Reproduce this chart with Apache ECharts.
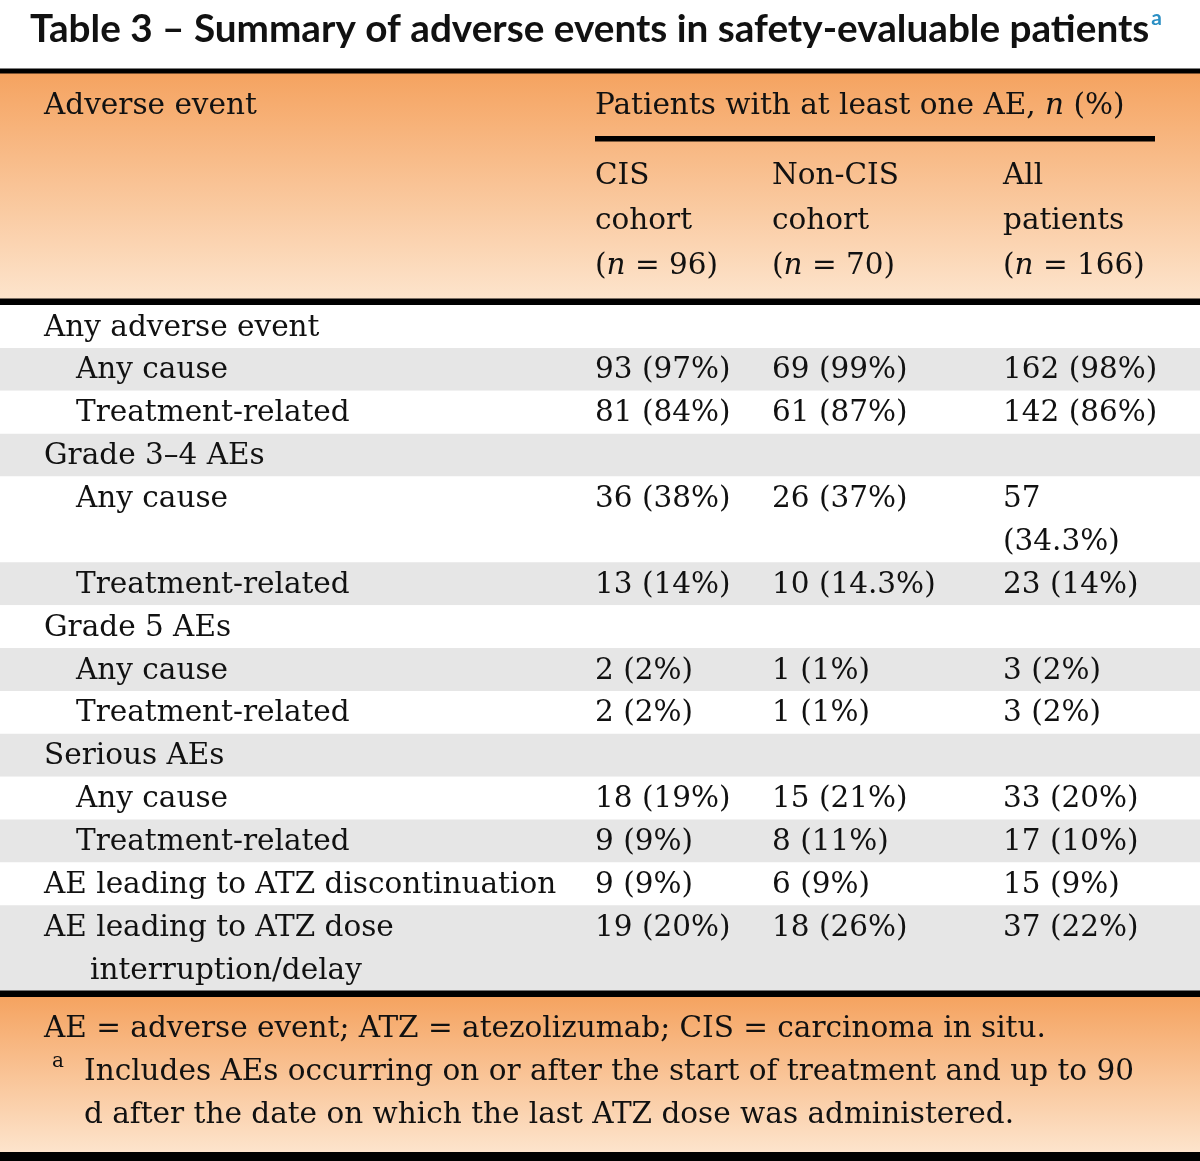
<!DOCTYPE html>
<html>
<head>
<meta charset="utf-8">
<script src="https://cdn.jsdelivr.net/npm/echarts@6/dist/echarts.min.js"></script>
<style>
  html, body { margin: 0; padding: 0; background: #fff; }
  #main { width: 1200px; height: 1161px; }
</style>
</head>
<body>
<div id="main"></div>
<script>
// 表格数据
var titleText = 'Table 3 – Summary of adverse events in safety-evaluable patients';
var rowLabels = [
    'Any adverse event', 'Any cause', 'Treatment-related',
    'Grade 3–4 AEs', 'Any cause', 'Treatment-related',
    'Grade 5 AEs', 'Any cause', 'Treatment-related',
    'Serious AEs', 'Any cause', 'Treatment-related',
    'AE leading to ATZ discontinuation',
    'AE leading to ATZ dose\ninterruption/delay'
];
var rowIndent = [0, 1, 1, 0, 1, 1, 0, 1, 1, 0, 1, 1, 0, 0];
var colHeads = [['CIS', 'cohort'], ['Non-CIS', 'cohort'], ['All', 'patients']];
var colTotals = [96, 70, 166];
var cisN      = [null, 93, 81, null, 36, 13, null, 2, 2, null, 18, 9, 9, 19];
var cisPct    = [null, 97, 84, null, 38, 14, null, 2, 2, null, 19, 9, 9, 20];
var nonCisN   = [null, 69, 61, null, 26, 10, null, 1, 1, null, 15, 8, 6, 18];
var nonCisPct = [null, 99, 87, null, 37, 14.3, null, 1, 1, null, 21, 11, 9, 26];
var allN      = [null, 162, 142, null, 57, 23, null, 3, 3, null, 33, 17, 15, 37];
var allPct    = [null, 98, 86, null, 34.3, 14, null, 2, 2, null, 20, 10, 9, 22];
var footLines = [
    'AE = adverse event; ATZ = atezolizumab; CIS = carcinoma in situ.',
    'Includes AEs occurring on or after the start of treatment and up to 90',
    'd after the date on which the last ATZ dose was administered.'
];

// 样式
var FONT = '"DejaVu Serif", serif';
var FS = 29.5;
var TITLE_FONT = 'Lato, "Noto Sans", sans-serif';
var TITLE_FS = 38.7;
var LINE = 42.875;          // 每行高度
var BODY_TOP = 305;
var DY = 1.5;               // 文字垂直微调
var colX = [595, 772, 1003];
var colW = [170, 225, 158];  // 超出则换行

var ctx = document.createElement('canvas').getContext('2d');
function textWidth(t, font) {
    ctx.font = font;
    return ctx.measureText(t).width;
}
// 按列宽折行
function wrap(t, w) {
    var font = FS + 'px ' + FONT;
    if (textWidth(t, font) <= w) return [t];
    var words = t.split(' '), lines = [], cur = '';
    words.forEach(function (wd) {
        var next = cur ? cur + ' ' + wd : wd;
        if (cur && textWidth(next, font) > w) { lines.push(cur); cur = wd; }
        else cur = next;
    });
    lines.push(cur);
    return lines;
}

var cols = [[cisN, cisPct], [nonCisN, nonCisPct], [allN, allPct]];
var cellLines = rowLabels.map(function (lab, i) {
    return cols.map(function (c, ci) {
        if (c[0][i] == null) return [];
        return wrap(c[0][i] + ' (' + c[1][i] + '%)', colW[ci]);
    });
});
var rowData = [];
var start = 0;
rowLabels.forEach(function (lab, i) {
    var n = Math.max(lab.split('\n').length,
        cellLines[i][0].length, cellLines[i][1].length, cellLines[i][2].length);
    rowData.push([i, start, n]);
    start += n;
});
var totalLines = start;

function txt(t, x, y, extra) {
    var st = {
        text: t, fontSize: FS, fontFamily: FONT, fill: '#111',
        align: 'left', verticalAlign: 'middle',
        rich: { i: { fontSize: FS, fontFamily: FONT, fontStyle: 'italic', fill: '#111' } }
    };
    for (var k in extra) st[k] = extra[k];
    return { type: 'text', x: x, y: y + DY, style: st, z: 10 };
}

function renderRow(params, api) {
    var i = api.value(0), s = api.value(1), n = api.value(2);
    var p0 = api.coord([0, s]);
    var p1 = api.coord([1200, s + n]);
    var children = [{
        type: 'rect',
        shape: { x: p0[0], y: p0[1], width: p1[0] - p0[0], height: p1[1] - p0[1] },
        style: { fill: i % 2 ? '#e6e6e6' : '#ffffff' }
    }];
    var labLines = rowLabels[i].split('\n');
    labLines.forEach(function (t, k) {
        var x = k > 0 ? 90 : (rowIndent[i] ? 76 : 44);
        children.push(txt(t, api.coord([x, 0])[0], api.coord([0, s + k + 0.5])[1]));
    });
    cellLines[i].forEach(function (ls, ci) {
        ls.forEach(function (t, k) {
            children.push(txt(t, api.coord([colX[ci], 0])[0], api.coord([0, s + k + 0.5])[1]));
        });
    });
    return { type: 'group', children: children };
}

var orangeGrad = function () {
    return new echarts.graphic.LinearGradient(0, 0, 0, 1, [
        { offset: 0, color: '#f5a360' },
        { offset: 1, color: '#fde4cc' }
    ]);
};

var titleW = textWidth(titleText, 'bold ' + TITLE_FS + 'px ' + TITLE_FONT);

var graphics = [
    // 标题
    { type: 'text', x: 30, y: 30, style: { text: titleText, fontSize: TITLE_FS, fontWeight: 'bold',
        fontFamily: TITLE_FONT, fill: '#111', align: 'left', verticalAlign: 'middle' } },
    { type: 'text', x: 30 + titleW + 2, y: 18, style: { text: 'a', fontSize: 21, fontWeight: 'bold',
        fontFamily: TITLE_FONT, fill: '#2b8fc4', align: 'left', verticalAlign: 'middle' } },
    // 表头
    { type: 'rect', shape: { x: 0, y: 73, width: 1200, height: 226 }, style: { fill: orangeGrad() } },
    { type: 'rect', shape: { x: 0, y: 68.5, width: 1200, height: 5 }, style: { fill: '#000' }, z: 5 },
    { type: 'rect', shape: { x: 0, y: 298.5, width: 1200, height: 6.5 }, style: { fill: '#000' }, z: 5 },
    txt('Adverse event', 44, 105),
    txt('Patients with at least one AE, {i|n} (%)', 595, 105),
    { type: 'rect', shape: { x: 595, y: 136, width: 560, height: 5.5 }, style: { fill: '#000' }, z: 5 },
    // 表尾
    { type: 'rect', shape: { x: 0, y: 997, width: 1200, height: 155 }, style: { fill: orangeGrad() } },
    { type: 'rect', shape: { x: 0, y: 990.5, width: 1200, height: 6.5 }, style: { fill: '#000' }, z: 5 },
    { type: 'rect', shape: { x: 0, y: 1152, width: 1200, height: 9 }, style: { fill: '#000' }, z: 5 },
    txt(footLines[0], 44, 1028),
    txt('a', 52, 1060, { fontSize: 20 }),
    txt(footLines[1], 84, 1071),
    txt(footLines[2], 84, 1114)
];
colHeads.forEach(function (h, ci) {
    graphics.push(txt(h[0], colX[ci], 175));
    graphics.push(txt(h[1], colX[ci], 220));
    graphics.push(txt('({i|n} = ' + colTotals[ci] + ')', colX[ci], 265));
});

var myChart = echarts.init(document.getElementById('main'));
var option = {
    backgroundColor: '#ffffff',
    animation: false,
    grid: { left: 0, right: 0, top: BODY_TOP, height: LINE * totalLines },
    xAxis: { type: 'value', min: 0, max: 1200, show: false },
    yAxis: { type: 'value', min: 0, max: totalLines, inverse: true, show: false },
    graphic: graphics,
    series: [{
        type: 'custom',
        renderItem: renderRow,
        clip: false,
        encode: { x: -1, y: 1 },
        data: rowData,
        silent: true
    }]
};
myChart.setOption(option);
</script>
</body>
</html>
